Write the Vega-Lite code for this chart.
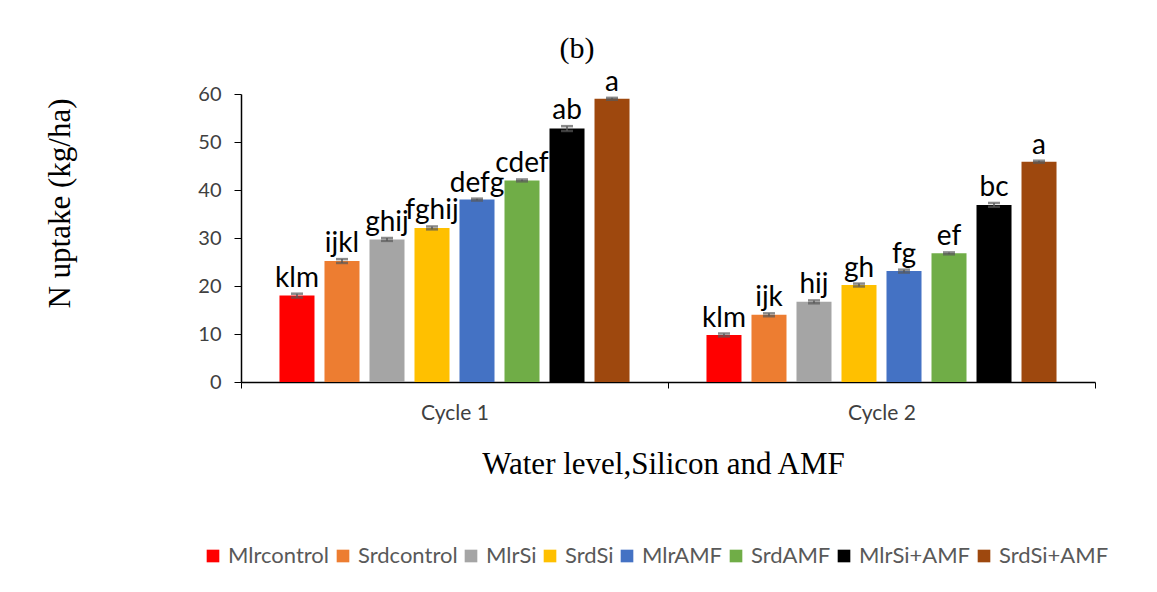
{
  "$schema": "https://vega.github.io/schema/vega-lite/v6.json",
  "autosize": "none",
  "width": 854,
  "height": 288,
  "padding": {"left": 241, "top": 94, "right": 62, "bottom": 210},
  "background": "white",
  "title": {"text": "(b)", "font": "Liberation Serif", "fontSize": 30, "fontWeight": "normal", "color": "#000000", "anchor": "middle", "dx": -91, "offset": 5},
  "data": {"values": [
    {"cycle": "Cycle 1", "trt": "Mlrcontrol", "v": 18.0, "e": 0.4, "l": "klm"},
    {"cycle": "Cycle 1", "trt": "Srdcontrol", "v": 25.2, "e": 0.4, "l": "ijkl"},
    {"cycle": "Cycle 1", "trt": "MlrSi", "v": 29.7, "e": 0.3, "l": "ghij"},
    {"cycle": "Cycle 1", "trt": "SrdSi", "v": 32.1, "e": 0.3, "l": "fghij"},
    {"cycle": "Cycle 1", "trt": "MlrAMF", "v": 38.0, "e": 0.2, "l": "defg"},
    {"cycle": "Cycle 1", "trt": "SrdAMF", "v": 42.0, "e": 0.2, "l": "cdef"},
    {"cycle": "Cycle 1", "trt": "MlrSi+AMF", "v": 52.8, "e": 0.5, "l": "ab"},
    {"cycle": "Cycle 1", "trt": "SrdSi+AMF", "v": 59.0, "e": 0.2, "l": "a"},
    {"cycle": "Cycle 2", "trt": "Mlrcontrol", "v": 9.8, "e": 0.3, "l": "klm"},
    {"cycle": "Cycle 2", "trt": "Srdcontrol", "v": 14.0, "e": 0.3, "l": "ijk"},
    {"cycle": "Cycle 2", "trt": "MlrSi", "v": 16.7, "e": 0.3, "l": "hij"},
    {"cycle": "Cycle 2", "trt": "SrdSi", "v": 20.2, "e": 0.3, "l": "gh"},
    {"cycle": "Cycle 2", "trt": "MlrAMF", "v": 23.1, "e": 0.3, "l": "fg"},
    {"cycle": "Cycle 2", "trt": "SrdAMF", "v": 26.8, "e": 0.2, "l": "ef"},
    {"cycle": "Cycle 2", "trt": "MlrSi+AMF", "v": 36.9, "e": 0.4, "l": "bc"},
    {"cycle": "Cycle 2", "trt": "SrdSi+AMF", "v": 45.9, "e": 0.2, "l": "a"}
  ]},
  "transform": [
    {"calculate": "datum.v + datum.e", "as": "hi"},
    {"calculate": "datum.v - datum.e", "as": "lo"}
  ],
  "encoding": {
    "x": {"field": "cycle", "type": "nominal", "scale": {"paddingInner": 0, "paddingOuter": 0},
      "axis": {"title": "Water level,Silicon  and AMF", "labelAngle": 0, "labelFont": "Lato", "labelFontSize": 21, "labelColor": "#404040", "labelPadding": 14,
        "tickBand": "extent", "tickColor": "#000000", "tickSize": 6, "domainColor": "#000000", "domainWidth": 1.5,
        "titleFont": "Liberation Serif", "titleFontSize": 31, "titleFontWeight": "normal", "titleColor": "#000000", "titleX": 422, "titleY": 91, "titleBaseline": "alphabetic"}},
    "xOffset": {"field": "trt", "type": "nominal", "sort": ["Mlrcontrol", "Srdcontrol", "MlrSi", "SrdSi", "MlrAMF", "SrdAMF", "MlrSi+AMF", "SrdSi+AMF"],
      "scale": {"paddingInner": 0.222, "paddingOuter": 0.855}}
  },
  "layer": [
    {"mark": {"type": "bar"},
     "encoding": {
       "y": {"field": "v", "type": "quantitative", "scale": {"domain": [0, 60]},
         "axis": {"title": "N uptake (kg/ha)", "values": [0, 10, 20, 30, 40, 50, 60], "grid": false, "labelFont": "Lato", "labelFontSize": 20, "labelColor": "#404040", "labelPadding": 13,
           "tickColor": "#000000", "tickSize": 7, "domainColor": "#000000", "domainWidth": 1.5,
           "titleFont": "Liberation Serif", "titleFontSize": 31, "titleFontWeight": "normal", "titleColor": "#000000", "titleX": -181, "titleY": 109, "titleAngle": -90, "titleBaseline": "middle", "titleAlign": "center"}},
       "color": {"field": "trt", "type": "nominal", "sort": ["Mlrcontrol", "Srdcontrol", "MlrSi", "SrdSi", "MlrAMF", "SrdAMF", "MlrSi+AMF", "SrdSi+AMF"],
         "scale": {"domain": ["Mlrcontrol", "Srdcontrol", "MlrSi", "SrdSi", "MlrAMF", "SrdAMF", "MlrSi+AMF", "SrdSi+AMF"],
           "range": ["#FF0000", "#ED7D31", "#A5A5A5", "#FFC000", "#4472C4", "#70AD47", "#000000", "#9E480E"]},
         "legend": {"title": null, "orient": "none", "direction": "horizontal", "legendX": -39, "legendY": 451, "columns": 8, "symbolType": "square", "symbolSize": 160, "symbolStrokeWidth": 0,
           "labelFont": "Lato", "labelFontSize": 22, "labelColor": "#595959", "columnPadding": 2, "labelOffset": 4}}
     }},
    {"mark": {"type": "rule", "color": "#595959", "strokeWidth": 1.5},
     "encoding": {"y": {"field": "lo", "type": "quantitative"}, "y2": {"field": "hi"}}},
    {"mark": {"type": "tick", "color": "#595959", "thickness": 2.5, "size": 12, "orient": "horizontal"},
     "encoding": {"y": {"field": "hi", "type": "quantitative"}}},
    {"mark": {"type": "tick", "color": "#595959", "thickness": 2.5, "size": 12, "orient": "horizontal"},
     "encoding": {"y": {"field": "lo", "type": "quantitative"}}},
    {"mark": {"type": "text", "font": "Lato", "fontSize": 28, "color": "#000000", "baseline": "alphabetic", "dy": -7},
     "encoding": {"y": {"field": "hi", "type": "quantitative"}, "text": {"field": "l"}}}
  ],
  "config": {"view": {"stroke": null}}
}
